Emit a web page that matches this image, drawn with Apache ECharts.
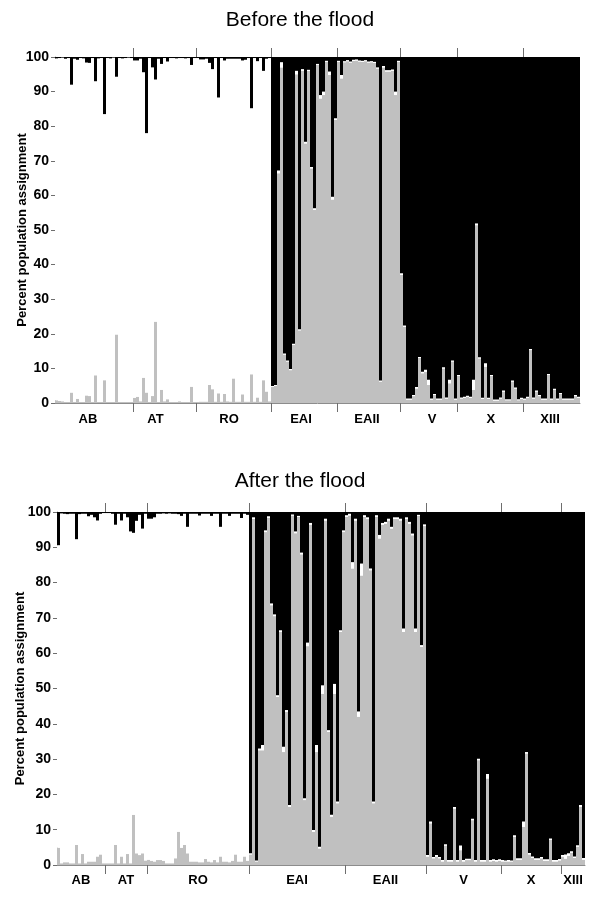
<!DOCTYPE html>
<html>
<head>
<meta charset="utf-8">
<script src="https://cdn.jsdelivr.net/npm/echarts@6/dist/echarts.min.js"></script>
<style>html,body{margin:0;padding:0;background:#fff}#c{width:600px;height:903px}</style>
</head>
<body>
<div id="c"></div>
<script>
const groupNames = ['AB','AT','RO','EAI','EAII','V','X','XIII'];
const beforeCounts = [26,21,25,22,21,19,22,19];
const afterCounts  = [16,14,34,32,27,25,20,8];
// where each group name sits, in individual units from the left edge
const beforeLabelPos = [11,33.5,58,82,104,125.7,145.3,165];
const afterLabelPos  = [8,23,47,80,109.5,135.5,158,172];

// grey share (bottom segment), per individual, in group order
const beforeGrey = [
  /*AB*/ 0.8,0.6,0.5,0.3,0.3,3,0.3,1.2,0.3,0.3,2.2,2,0.3,8,0.3,0.3,6.6,0.3,0.3,0.3,19.8,0.3,0.3,0.3,0.3,0.3,
  /*AT*/ 1.5,1.8,0.5,7.3,3,0.3,2,23.5,0.3,3.8,0.5,1.1,0.3,0.3,0.3,0.5,0.3,0.3,0.3,4.7,0.3,
  /*RO*/ 0.3,0.4,0.4,0.4,5.2,4,0.4,2.8,0.4,2.6,0.5,0.4,7.1,0.4,0.4,2.5,0.4,0.4,8.3,0.4,1.6,0.4,6.6,3.3,0.5,
  /*EAI*/ 4.7,5,66.4,97,14,12,9.5,16.8,95,21,96,75,96,67.8,55.8,97.7,88,89,98.6,94.8,58.8,81.8,
  /*EAII*/ 98.6,93.8,98.5,98.8,98.4,98.9,99,98.7,98.6,98.8,98.4,98.5,98.3,96.7,6.2,97,95.8,95.8,96,89,98.6,
  /*V*/ 37,22,1,1,2,4.2,13,8.6,9,5.2,1,2.3,1,1,10,1.3,5.7,12,1,
  /*X*/ 7.8,1.3,1.5,1.8,1.5,3.8,51.4,12.9,1.2,10.5,1.2,7.8,0.7,0.7,1.3,3.3,0.8,0.8,6.2,4.2,0.8,1.2,
  /*XIII*/ 1,1.5,15.3,1.3,3.3,2,1,1,8.1,1,3.8,1,2.6,1,1,1,1,2,1.5
];
// level where the black (top) segment starts
const beforeBlackFrom = [
  /*AB*/ 99.6,99.7,99.8,99.5,99.7,92,99.5,99.2,99.7,99.6,98.4,98.3,99.7,93,99.6,99.7,83.5,99.7,99.6,99.8,94.3,99.7,99.6,99.7,99.8,99.7,
  /*AT*/ 99,99,99.5,95.6,78,99.7,97,93.5,99.5,98,99.7,98.7,99.7,99.7,99.6,99.7,99.7,99.6,99.7,97.7,99.7,
  /*RO*/ 99.7,99.3,99.3,99.5,98.3,96.5,99.7,88.3,99.7,99,99.5,99.5,99.5,99.5,99.5,99,99.2,99.7,85.2,99.7,98.8,99.7,96,99.5,99.7,
  /*EAI*/ 4.9,5.2,67.2,98.5,14.3,12.3,9.8,17.1,96,21.3,96.5,75.5,96.3,68.2,56.3,98,89,90,98.9,95.8,59.6,82.3,
  /*EAII*/ 98.9,94.8,98.8,99.1,98.7,99.2,99.3,99,98.9,99.1,98.7,98.8,98.6,97,6.5,97.4,96.2,96.2,96.4,90,98.9,
  /*V*/ 37.5,22.4,1.3,1.3,2.3,4.6,13.3,9,9.6,6.7,1.3,2.6,1.3,1.3,10.3,1.6,6.7,12.3,1.3,
  /*X*/ 8.1,1.6,1.8,2.1,1.8,6.7,51.9,13.2,1.5,11.5,1.5,8.1,1,1,1.6,3.6,1.1,1.1,6.5,4.5,1.1,1.5,
  /*XIII*/ 1.3,1.8,15.6,1.6,3.6,2.3,1.3,1.3,8.4,1.3,4.1,1.3,2.9,1.3,1.3,1.3,1.3,2.3,1.8
];

const afterGrey = [
  /*AB*/ 4.9,0.5,0.8,0.8,0.5,0.5,5.7,0.5,3.1,0.5,1,1,1,2.4,3,0.5,
  /*AT*/ 0.5,0.5,0.5,5.7,0.5,2.4,0.5,3.1,0.5,14.2,3.3,2.8,3.3,1.3,
  /*RO*/ 1.5,1.2,1,1.4,1.4,1.2,0.5,0.5,0.5,1.9,9.4,4.9,5.7,3.3,1,1,1,0.8,0.8,1.7,1,0.8,1.4,0.8,2.4,1,1,0.8,1.2,3,1,1,2.4,1.2,
  /*EAI*/ 3,98,1,32.5,32.5,94.3,98.3,73.6,70.5,47.6,66,32,43.4,16.5,99,94,98.6,88,18.4,62,96.4,9.4,32,4.7,48.5,97.6,37.7,13.7,48.5,17.5,66,94.3,
  /*EAII*/ 98.6,99,84,97.6,42,82,98.6,98,83.5,17.5,98.6,92.5,96.4,96.7,97.6,95.3,98,98,97.6,66,98,96.7,93.4,66,98.9,61.8,96,
  /*V*/ 2.4,11.8,1.9,2.4,1.9,1,5.5,1,1,16,1,4.2,1,1.4,1.4,12.7,1,29.7,1,1,24.5,1,1.2,1,1.2,
  /*X*/ 1,1,1,1,8,1.5,1.5,10.8,31.6,3,2,1.5,1.5,1.9,1.2,1.2,7.1,1,1,1.3,
  /*XIII*/ 2.4,1.8,2.6,3.5,2,5.2,16.5,1.5
];
const afterBlackFrom = [
  /*AB*/ 90.6,99.6,99.5,99.4,99.5,99.5,92.3,99.4,99.5,99.5,98.8,99.2,98.5,97.6,99.5,99.7,
  /*AT*/ 99.7,99.7,99.5,96.4,99.5,97.6,99.5,98.5,94.5,94.1,97.5,99.2,95.3,99.5,
  /*RO*/ 98.1,98.1,98.5,99.5,99.5,99.6,99.5,99.6,99.5,99.5,99.4,98.9,99.5,95.8,99.5,99.5,99.5,99,99.5,99.5,99.5,98.9,99.5,99.5,95.8,99.5,99.5,98.9,99.5,99.5,99.5,98.3,99.5,99.2,
  /*EAI*/ 3.3,98.5,1.3,33,34,94.8,98.8,74.1,71,48.1,66.5,33.5,43.9,17,99.3,94.5,98.9,88.5,18.9,63,96.9,9.9,34,5.2,50.9,98.1,38.2,14.2,51.3,18,66.5,94.8,
  /*EAII*/ 99.1,99.5,85.8,98.1,43.5,85.4,99.1,98.5,84,18,99.1,93.5,96.9,97.2,98.1,95.8,98.5,98.5,98.1,67,98.5,97.2,93.9,67,99.2,62.3,96.5,
  /*V*/ 2.8,12.3,2.3,2.8,2.3,1.4,5.9,1.4,1.4,16.4,1.4,5.5,1.4,1.8,1.8,13.1,1.4,30.1,1.4,1.4,25.8,1.4,1.6,1.4,1.6,
  /*X*/ 1.4,1.3,1.4,1.3,8.4,1.9,1.9,12.3,32,3.4,2.4,1.9,1.9,2.3,1.6,1.6,7.5,1.4,1.4,1.7,
  /*XIII*/ 2.8,3,3.3,3.9,2.4,5.6,17,2
];

const yTicks = [0,10,20,30,40,50,60,70,80,90,100];
const FONT = 'Liberation Sans, Arial, sans-serif';

function build(counts, labelPos, grey, blackFrom) {
  const cats = [], bounds = [];
  let k = 0;
  counts.forEach((n, gi) => {
    if (k > 0) bounds.push(k);
    for (let i = 0; i < n; i++) { cats.push(groupNames[gi] + '-' + i); }
    k += n;
  });
  const white = grey.map((g, i) => +(blackFrom[i] - g).toFixed(2));
  const black = blackFrom.map(v => +(100 - v).toFixed(2));
  return { cats, bounds, labelPos, total: k, white, black };
}

const B = build(beforeCounts, beforeLabelPos, beforeGrey, beforeBlackFrom);
const A = build(afterCounts, afterLabelPos, afterGrey, afterBlackFrom);

function xAxes(d, gridIndex, labelMargin) {
  const nameAt = (v) => {
    const i = d.labelPos.findIndex(p => Math.abs(p - v) < 0.01);
    return i >= 0 ? groupNames[i] : '';
  };
  return [
    { type: 'category', gridIndex, data: d.cats, boundaryGap: true, show: false },
    {
      type: 'value', gridIndex, min: 0, max: d.total, position: 'bottom',
      axisLine: { show: true, onZero: false, lineStyle: { color: '#8c8c8c', width: 1 } },
      splitLine: { show: false },
      axisTick: { show: true, length: 9, customValues: d.bounds, lineStyle: { color: '#6e6e6e' } },
      axisLabel: {
        customValues: d.labelPos, formatter: nameAt,
        fontWeight: 'bold', fontSize: 13, color: '#000', margin: labelMargin, fontFamily: FONT
      }
    },
    {
      type: 'value', gridIndex, min: 0, max: d.total, position: 'top',
      axisLine: { show: false, onZero: false },
      splitLine: { show: false },
      axisTick: { show: true, length: 9, customValues: d.bounds, lineStyle: { color: '#6e6e6e' } },
      axisLabel: { show: false }
    }
  ];
}

function yAxis(gridIndex, nameGap) {
  return {
    type: 'value', gridIndex, min: yTicks[0], max: yTicks[yTicks.length - 1], interval: 10,
    axisLine: { show: true, lineStyle: { color: '#9a9a9a' } },
    axisTick: { show: true, length: 4, lineStyle: { color: '#6e6e6e' } },
    splitLine: { show: false },
    axisLabel: { fontWeight: 'bold', fontSize: 14, color: '#000', margin: 6, fontFamily: FONT },
    name: 'Percent population assignment', nameLocation: 'middle', nameGap,
    nameMoveOverlap: false,
    nameTextStyle: { fontWeight: 'bold', fontSize: 13, color: '#000', fontFamily: FONT }
  };
}

function series(d, grey, xi, yi) {
  const base = { type: 'bar', stack: 's' + xi, xAxisIndex: xi, yAxisIndex: yi, barCategoryGap: '0%', silent: true };
  return [
    Object.assign({}, base, { name: 'grey', data: grey, itemStyle: { color: '#c0c0c0' } }),
    Object.assign({}, base, { name: 'white', data: d.white, itemStyle: { color: '#ffffff' } }),
    Object.assign({}, base, { name: 'black', data: d.black, itemStyle: { color: '#000000' } })
  ];
}

const chart = echarts.init(document.getElementById('c'), null, { renderer: 'canvas' });
chart.setOption({
  animation: false,
  backgroundColor: '#fff',
  title: [
    { text: 'Before the flood', left: 'center', top: 10, padding: 0,
      textStyle: { fontSize: 21, fontWeight: 'normal', color: '#000', fontFamily: FONT } },
    { text: 'After the flood', left: 'center', top: 471, padding: 0,
      textStyle: { fontSize: 21, fontWeight: 'normal', color: '#000', fontFamily: FONT } }
  ],
  grid: [
    { left: 55, width: 525, top: 57, height: 346 },
    { left: 57, width: 528, top: 512, height: 353 }
  ],
  xAxis: [].concat(xAxes(B, 0, 10), xAxes(A, 1, 9)),
  yAxis: [yAxis(0, 26), yAxis(1, 30)],
  series: [].concat(series(B, beforeGrey, 0, 0), series(A, afterGrey, 3, 1))
});
</script>
</body>
</html>
